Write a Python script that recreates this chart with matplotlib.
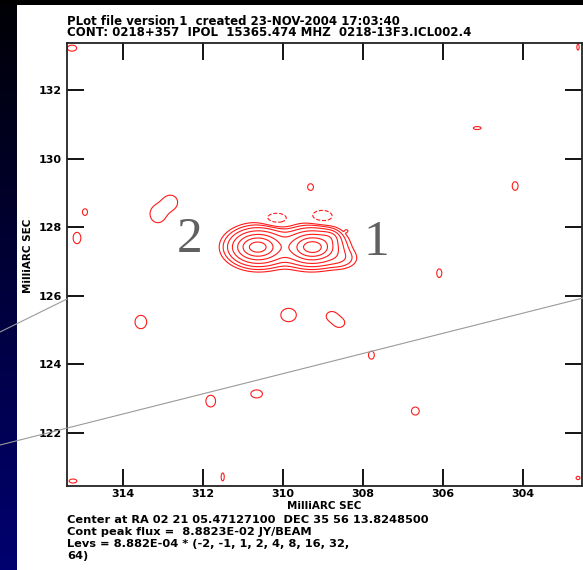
import numpy as np
import matplotlib
matplotlib.use("Agg")
import matplotlib.pyplot as plt
from matplotlib.lines import Line2D

W, H = 583, 570

# ---------------- data ----------------
header_lines = ["PLot file version 1  created 23-NOV-2004 17:03:40",
                "CONT: 0218+357  IPOL  15365.474 MHZ  0218-13F3.ICL002.4"]
footer_lines = ["Center at RA 02 21 05.47127100  DEC 35 56 13.8248500",
                "Cont peak flux =  8.8823E-02 JY/BEAM",
                "Levs = 8.882E-04 * (-2, -1, 1, 2, 4, 8, 16, 32,",
                "64)"]
axis_label = "MilliARC SEC"
base_level = 8.882e-4
level_factors = [-2, -1, 1, 2, 4, 8, 16, 32, 64]
x_ticks = [314, 312, 310, 308, 306, 304]
y_ticks = [122, 124, 126, 128, 130, 132]
x_limits = (315.41, 302.51)
y_limits = (120.455, 133.37)
component_labels = ["2", "1"]

# Gaussian model of the map (offsets in mas, amplitude in units of base level)
comp_x = [310.635, 310.635, 309.26, 309.26, 309.95, 308.55, 308.85,
          313.135, 312.81, 314.96, 315.16, 313.56, 309.86, 308.785, 308.585,
          307.785, 311.81, 310.66, 306.685, 306.085, 304.185, 305.135, 309.31,
          311.51, 315.26, 315.285, 302.61, 302.61, 308.41,
          310.16, 309.02]
comp_y = [127.42, 127.42, 127.42, 127.42, 127.40, 127.08, 127.70,
          128.385, 128.73, 128.44, 127.685, 125.236, 125.44, 125.41, 125.21,
          124.27, 122.93, 123.14, 122.64, 126.66, 129.2, 130.89, 129.17,
          120.72, 120.6, 133.22, 133.25, 120.69, 127.89,
          128.24, 128.31]
comp_amp = [57, 35, 62, 35, 3, 3, 6,
            1.6, 1.6, 1.6, 1.6, 1.6, 1.6, 1.5, 1.5,
            1.6, 1.6, 1.6, 1.6, 1.6, 1.6, 1.6, 1.6,
            1.6, 1.6, 1.6, 1.6, 1.6, 1.3,
            -1.9, -1.9]
comp_sx = [0.20, 0.36, 0.20, 0.36, 0.50, 0.25, 0.15,
           0.20, 0.17, 0.065, 0.10, 0.15, 0.20, 0.14, 0.14,
           0.075, 0.125, 0.15, 0.10, 0.065, 0.075, 0.10, 0.075,
           0.04, 0.10, 0.12, 0.03, 0.05, 0.03,
           0.24, 0.23]
comp_sy = [0.14, 0.27, 0.14, 0.27, 0.30, 0.18, 0.12,
           0.26, 0.20, 0.10, 0.17, 0.20, 0.20, 0.14, 0.14,
           0.12, 0.175, 0.12, 0.12, 0.13, 0.13, 0.045, 0.10,
           0.12, 0.06, 0.09, 0.09, 0.05, 0.03,
           0.15, 0.16]

# ---------------- figure ----------------
fig = plt.figure(figsize=(W / 100, H / 100), dpi=100, facecolor="white")

def fx(px):
    return px / W

def fy(py):
    return 1 - py / H

# dark slide band on the left, black strip on top
band = fig.add_axes([0, 0, 17 / W, 1])
grad = np.linspace(0, 1, 256)
band_rgb = np.zeros((256, 1, 3))
band_rgb[:, 0, 2] = 0.02 + 0.42 * grad
band.imshow(band_rgb, aspect="auto", extent=[0, 1, 0, 1], origin="upper")
band.set_axis_off()
top = fig.add_axes([0, 1 - 5 / H, 1, 5 / H])
top.set_facecolor("black")
top.set_xticks([]); top.set_yticks([])
for s in top.spines.values():
    s.set_visible(False)

ax = fig.add_axes([fx(67), fy(486), (582 - 67) / W, (486 - 43) / H])

gx = np.linspace(302.3, 315.6, 760)
gy = np.linspace(120.3, 133.5, 680)
GX, GY = np.meshgrid(gx, gy)
field = np.zeros_like(GX)
for x0, y0, a, sx, sy in zip(comp_x, comp_y, comp_amp, comp_sx, comp_sy):
    field += a * np.exp(-((GX - x0) ** 2 / (2 * sx ** 2) + (GY - y0) ** 2 / (2 * sy ** 2)))
field *= base_level

levels = [f * base_level for f in level_factors]
ax.contour(GX, GY, field, levels=levels, colors="#ff1a1a", linewidths=0.8,
           negative_linestyles="dashed")

ax.set_xlim(*x_limits)
ax.set_ylim(*y_limits)
ax.set_xticks(x_ticks)
ax.set_yticks(y_ticks)
ax.tick_params(direction="in", length=12, width=1.3, top=True, right=True,
               colors="black")
ax.tick_params(axis="x", pad=2.5)
ax.tick_params(axis="y", pad=3.6)
for t in ax.get_xticklabels() + ax.get_yticklabels():
    t.set_fontfamily("DejaVu Sans")
    t.set_fontweight("bold")
    t.set_fontsize(8)
for s in ax.spines.values():
    s.set_linewidth(1.3)
    s.set_color("#222222")

# texts
hf = dict(family="DejaVu Sans", fontsize=8.5, weight="bold", color="black",
          ha="left", va="baseline")
fig.text(fx(67), fy(25), header_lines[0], **hf)
fig.text(fx(67), fy(36.5), header_lines[1], **hf)
ff = dict(hf, fontsize=8.2)
for line, base in zip(footer_lines, [523, 535, 547, 559]):
    fig.text(fx(67), fy(base), line, **ff)

fig.text(fx(287), fy(509), axis_label, family="DejaVu Sans", fontsize=7.5,
         weight="bold", ha="left", va="baseline")
fig.text(fx(28), fy(256), axis_label, family="DejaVu Sans", fontsize=7.5,
         weight="bold", rotation=90, ha="center", va="center")

lab = dict(family="Liberation Serif", fontsize=37, color="#606060",
           ha="center", va="baseline")
fig.text(fx(190), fy(252), component_labels[0], **lab)
fig.text(fx(376), fy(255), component_labels[1], **lab)

# slide pointer lines
fig.add_artist(Line2D([0, fx(67)], [fy(332), fy(299)], color="#9a9a9a", lw=0.8))
fig.add_artist(Line2D([0, 1], [fy(445), fy(298)], color="#9a9a9a", lw=0.8))

fig.savefig("out.png", dpi=100, facecolor="white")
